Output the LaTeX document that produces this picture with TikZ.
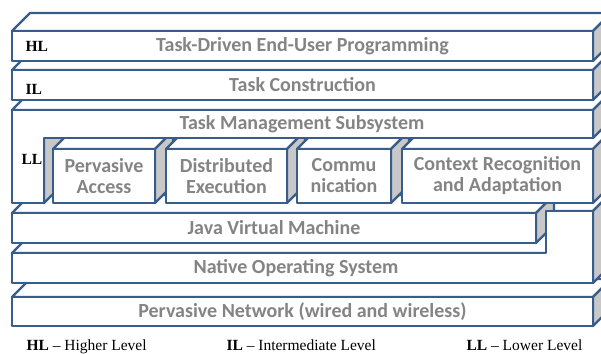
\documentclass[tikz,border=0pt]{standalone}
\usepackage{fontspec}
\setmainfont{Liberation Serif}
\newfontfamily\layerfont{Carlito}
\usepackage{tikz}

\definecolor{frame}{RGB}{56,93,138}
\definecolor{sidegray}{RGB}{200,200,200}
\definecolor{txt}{RGB}{132,132,132}

\begin{document}
\begin{tikzpicture}[x=1pt, y=-1pt, line width=2.4pt, line join=round,
	layertext/.style = {text=txt, font=\layerfont\bfseries\fontsize{20}{21}\selectfont, align=center},
	frontface/.style = {layertext, draw=frame, fill=white, inner sep=0pt},
	topface/.style = {draw=frame, fill=white},
	sideface/.style = {draw=frame, fill=sidegray},
	lvl/.style = {anchor=base west, font=\bfseries\fontsize{15.5}{17}\selectfont},
	legendtxt/.style = {anchor=base west, font=\fontsize{15.5}{18}\selectfont}]
	\useasboundingbox (0,0) rectangle (601,353);
	\clip (0,0) rectangle (601,353);
	% pervasive network
	\filldraw[topface] (12,297) -- ++(18,-18) -- ++(581,0) -- ++(-18,18) -- cycle;
	\filldraw[sideface] (593,297) -- ++(18,-18) -- ++(0,29) -- ++(-18,18) -- cycle;
	\node[frontface, minimum width=581, minimum height=29] (net) at (302.5,311.5) {Pervasive Network (wired and wireless)};
	% native os, raised on the right
	\filldraw[topface] (12,253) -- ++(18,-18) -- ++(534,0) -- ++(-18,18) -- cycle;
	\filldraw[topface] (546,211) -- ++(18,-18) -- ++(47,0) -- ++(-18,18) -- cycle;
	\filldraw[sideface] (593,211) -- ++(18,-18) -- ++(0,72) -- ++(-18,18) -- cycle;
	\filldraw[topface] (12,253) -- (546,253) -- (546,211) -- (593,211) -- (593,283) -- (12,283) -- cycle;
	\node[layertext] (nos) at (296,268) {Native Operating System};
	% jvm
	\filldraw[topface] (12,213) -- ++(18,-18) -- ++(524,0) -- ++(-18,18) -- cycle;
	\filldraw[sideface] (536,213) -- ++(18,-18) -- ++(0,30) -- ++(-18,18) -- cycle;
	\node[frontface, minimum width=524, minimum height=30] (jvm) at (274,228) {Java Virtual Machine};
	\filldraw[topface] (546,253) -- (546,211) -- (593,211) -- (593,253);
	% task management subsystem
	\filldraw[sideface] (44,110) -- ++(18,-18) -- ++(0,93) -- ++(-18,18) -- cycle;
	\foreach \n/\x/\w/\t in {pa/104/102/{Pervasive\\Access}, de/226.5/121/{Distributed\\Execution},
		co/344/94/{Commu\\nication}, cr/497.5/191/{Context Recognition\\and Adaptation}} {
		\filldraw[topface] (\x-\w/2,149) -- ++(18,-18) -- ++(\w,0) -- ++(-18,18) -- cycle;
		\filldraw[sideface] (\x+\w/2,149) -- ++(18,-18) -- ++(0,54) -- ++(-18,18) -- cycle;
		\node[frontface, minimum width=\w, minimum height=54] (\n) at (\x,176) {\t};
	}
	\filldraw[topface] (12,110) -- ++(18,-18) -- ++(581,0) -- ++(-18,18) -- cycle;
	\filldraw[sideface] (593,110) -- ++(18,-18) -- ++(0,28) -- ++(-18,18) -- cycle;
	\filldraw[topface] (12,110) -- (593,110) -- (593,138) -- (44,138) -- (44,203) -- (12,203) -- cycle;
	\node[layertext] (tms) at (302,124) {Task Management Subsystem};
	\node[lvl] (ll) at (17,164) {LL};
	% task construction
	\filldraw[topface] (12,70) -- ++(18,-18) -- ++(581,0) -- ++(-18,18) -- cycle;
	\filldraw[sideface] (593,70) -- ++(18,-18) -- ++(0,30) -- ++(-18,18) -- cycle;
	\node[frontface, minimum width=581, minimum height=30] (tc) at (302.5,85) {Task Construction};
	\node[lvl] (il) at (21,94) {IL};
	% end-user programming
	\filldraw[topface] (12,31) -- ++(18,-18) -- ++(581,0) -- ++(-18,18) -- cycle;
	\filldraw[sideface] (593,31) -- ++(18,-18) -- ++(0,30) -- ++(-18,18) -- cycle;
	\node[frontface, minimum width=581, minimum height=30] (eup) at (302.5,46) {Task-Driven End-User Programming};
	\node[lvl] (hl) at (21,52) {HL};
	% legend
	\node[legendtxt] (khl) at (22,350) {\textbf{HL} -- Higher Level};
	\node[legendtxt] (kil) at (222,350) {\textbf{IL} -- Intermediate Level};
	\node[legendtxt] (kll) at (462,350) {\textbf{LL} -- Lower Level};
\end{tikzpicture}
\end{document}
